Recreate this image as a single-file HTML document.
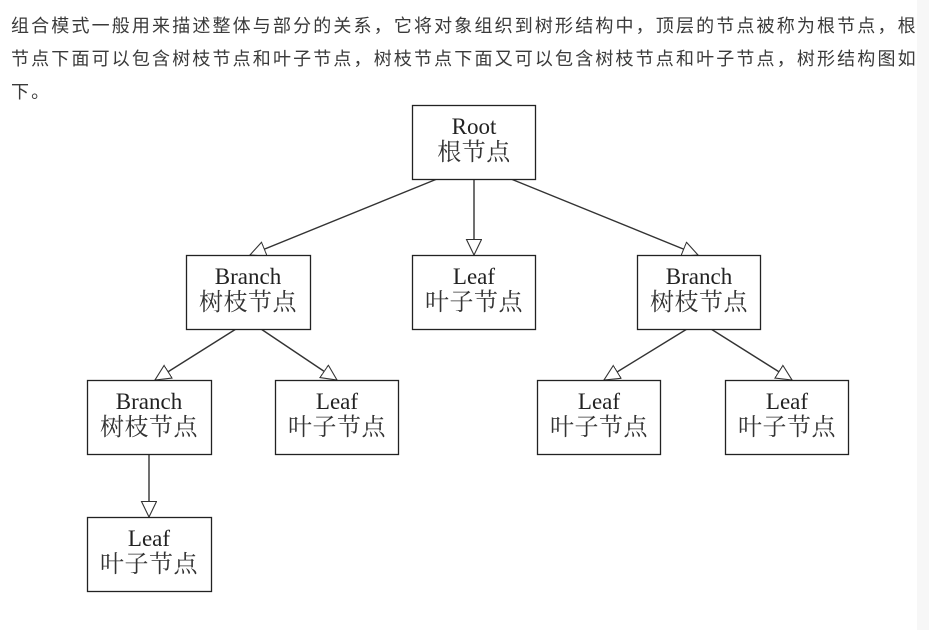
<!DOCTYPE html>
<html><head><meta charset="utf-8"><style>
html,body{margin:0;padding:0;background:#fff;width:929px;height:630px;overflow:hidden;}
.t{position:absolute;left:11px;font-family:"Liberation Sans","Noto Sans CJK SC",sans-serif;font-size:18px;letter-spacing:2.15px;color:#3a3a3a;white-space:nowrap;line-height:20px;}
.strip{position:absolute;right:0;top:0;width:12px;height:630px;background:#f7f7f7;}
</style></head><body>
<div class="t" style="top:16px">组合模式一般用来描述整体与部分的关系，它将对象组织到树形结构中，顶层的节点被称为根节点，根</div>
<div class="t" style="top:49px">节点下面可以包含树枝节点和叶子节点，树枝节点下面又可以包含树枝节点和叶子节点，树形结构图如</div>
<div class="t" style="top:82px">下。</div>
<div class="strip"></div>
<svg style="position:absolute;left:0;top:0" width="929" height="630" xmlns="http://www.w3.org/2000/svg">
<defs><marker id="a" markerUnits="userSpaceOnUse" markerWidth="20" markerHeight="20" refX="16" refY="8" orient="auto"><path d="M0.5,0.5 L16,8 L0.5,15.5 z" fill="#fff" stroke="#333" stroke-width="1.1"/></marker></defs>
<g stroke="#333" stroke-width="1.4" fill="none">
<line x1="437" y1="179" x2="250" y2="255" marker-end="url(#a)"/>
<line x1="474" y1="179" x2="474" y2="255" marker-end="url(#a)"/>
<line x1="511" y1="179" x2="698" y2="255" marker-end="url(#a)"/>
<line x1="236" y1="329" x2="155" y2="380" marker-end="url(#a)"/>
<line x1="261" y1="329" x2="337" y2="380" marker-end="url(#a)"/>
<line x1="687" y1="329" x2="604" y2="380" marker-end="url(#a)"/>
<line x1="711" y1="329" x2="792" y2="380" marker-end="url(#a)"/>
<line x1="149" y1="454" x2="149" y2="517" marker-end="url(#a)"/>
</g>
<g stroke="#222" stroke-width="1.3" fill="#fff">
<rect x="412.5" y="105.5" width="123" height="74"/>
<rect x="186.5" y="255.5" width="124" height="74"/>
<rect x="412.5" y="255.5" width="123" height="74"/>
<rect x="637.5" y="255.5" width="123" height="74"/>
<rect x="87.5" y="380.5" width="124" height="74"/>
<rect x="275.5" y="380.5" width="123" height="74"/>
<rect x="537.5" y="380.5" width="123" height="74"/>
<rect x="725.5" y="380.5" width="123" height="74"/>
<rect x="87.5" y="517.5" width="124" height="74"/>
</g>
<g font-family="Liberation Serif,serif" font-size="23" fill="#222" text-anchor="middle">
<text x="474" y="134">Root</text>
<text x="248" y="284">Branch</text>
<text x="474" y="284">Leaf</text>
<text x="699" y="284">Branch</text>
<text x="149" y="409">Branch</text>
<text x="337" y="409">Leaf</text>
<text x="599" y="409">Leaf</text>
<text x="787" y="409">Leaf</text>
<text x="149" y="546">Leaf</text>
</g>
<g font-family="Liberation Serif,'Noto Serif CJK SC',serif" font-size="24" fill="#333" text-anchor="middle" letter-spacing="0.5">
<text x="474" y="160">根节点</text>
<text x="248" y="310">树枝节点</text>
<text x="474" y="310">叶子节点</text>
<text x="699" y="310">树枝节点</text>
<text x="149" y="435">树枝节点</text>
<text x="337" y="435">叶子节点</text>
<text x="599" y="435">叶子节点</text>
<text x="787" y="435">叶子节点</text>
<text x="149" y="572">叶子节点</text>
</g>
</svg>
</body></html>
